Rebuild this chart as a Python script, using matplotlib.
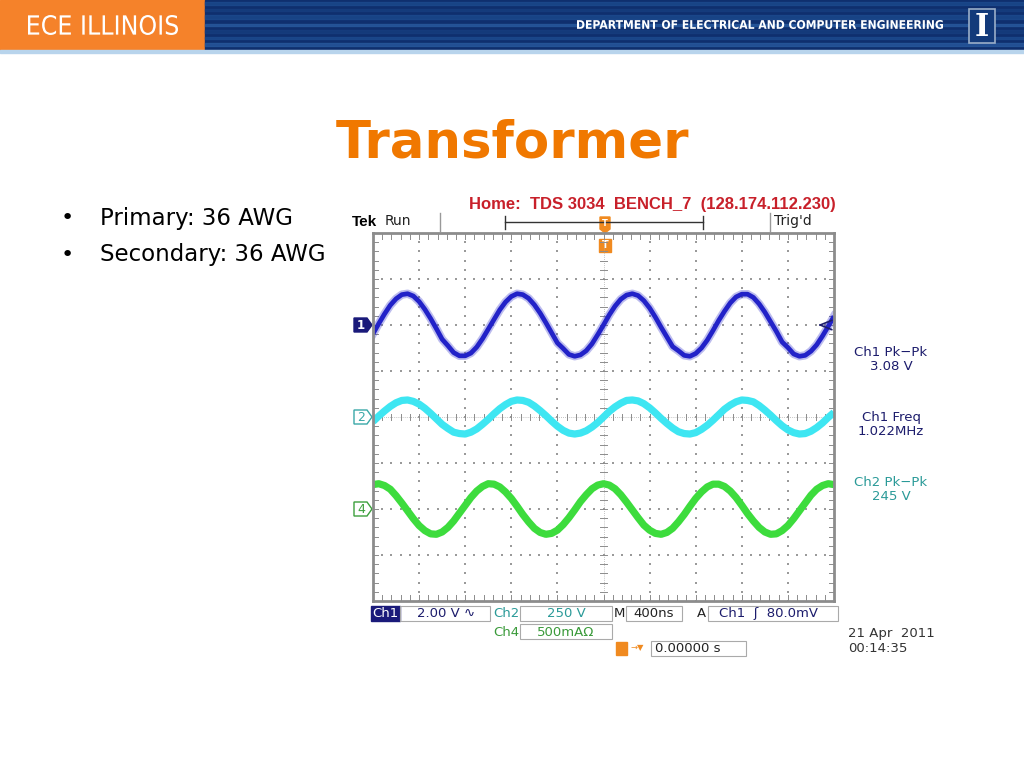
import numpy as np
import matplotlib.pyplot as plt
from matplotlib.patches import Rectangle, Polygon, PathPatch
from matplotlib.textpath import TextPath
from matplotlib.font_manager import FontProperties
from matplotlib.transforms import Affine2D

ch1_values = [-0.19, 0.03, 0.24, 0.43, 0.57, 0.66, 0.68, 0.63, 0.51, 0.34, 0.14, -0.08, -0.31, -0.45,
              -0.60, -0.67, -0.67, -0.61, -0.48, -0.30, -0.09, 0.12, 0.33, 0.50, 0.62, 0.68, 0.66,
              0.58, 0.44, 0.26, 0.05, -0.17, -0.39, -0.51, -0.64, -0.68, -0.65, -0.56, -0.41, -0.21,
              0.00, 0.22, 0.41, 0.56, 0.65, 0.68, 0.64, 0.53, 0.37, 0.17, -0.05, -0.26, -0.47, -0.56,
              -0.66, -0.68, -0.62, -0.50, -0.33, -0.12, 0.10, 0.30, 0.48, 0.61, 0.67, 0.67, 0.60,
              0.46, 0.28, 0.07, -0.14, -0.37, -0.49, -0.63, -0.68, -0.66, -0.57, -0.43, -0.24, -0.03, 0.19]
ch2_values = [-0.10, 0.02, 0.13, 0.23, 0.31, 0.36, 0.37, 0.34, 0.28, 0.19, 0.08, -0.04, -0.16, -0.25,
              -0.33, -0.36, -0.37, -0.33, -0.26, -0.16, -0.05, 0.07, 0.18, 0.27, 0.34, 0.37, 0.36,
              0.32, 0.24, 0.14, 0.03, -0.09, -0.20, -0.29, -0.35, -0.37, -0.35, -0.30, -0.22, -0.12,
              0.00, 0.12, 0.22, 0.30, 0.36, 0.37, 0.35, 0.29, 0.20, 0.09, -0.03, -0.14, -0.24, -0.32,
              -0.36, -0.37, -0.34, -0.27, -0.18, -0.07, 0.05, 0.17, 0.26, 0.33, 0.37, 0.36, 0.33,
              0.25, 0.15, 0.04, -0.08, -0.19, -0.28, -0.34, -0.37, -0.36, -0.31, -0.23, -0.13, -0.01, 0.10]
ch4_values = [0.53, 0.55, 0.51, 0.43, 0.29, 0.13, -0.04, -0.21, -0.36, -0.47, -0.54, -0.55, -0.50, -0.40,
              -0.26, -0.09, 0.08, 0.25, 0.39, 0.49, 0.55, 0.54, 0.48, 0.37, 0.23, 0.06, -0.12,
              -0.28, -0.42, -0.51, -0.55, -0.53, -0.46, -0.34, -0.19, -0.02, 0.16, 0.31, 0.44, 0.52,
              0.55, 0.52, 0.44, 0.31, 0.15, -0.02, -0.19, -0.35, -0.46, -0.53, -0.55, -0.51, -0.42,
              -0.28, -0.12, 0.06, 0.23, 0.37, 0.48, 0.54, 0.54, 0.49, 0.39, 0.25, 0.08, -0.10, -0.26,
              -0.40, -0.50, -0.55, -0.54, -0.47, -0.36, -0.21, -0.04, 0.13, 0.30, 0.43, 0.51, 0.55, 0.53]
offsets = {'1': 2.0, '2': 0.0, '4': -2.0}
temps = np.linspace(0, 10, len(ch1_values))   # position horizontale en divisions

bullets = ["Primary: 36 AWG", "Secondary: 36 AWG"]
mesures = [("Ch1 Pk\u2212Pk", "3.08 V", '#1c1c6c'),
           ("Ch1 Freq", "1.022MHz", '#1c1c6c'),
           ("Ch2 Pk\u2212Pk", "245 V", '#2a9a98')]

bleu_ch1 = '#2222c8'
cyan_ch2 = '#3ee6f2'
vert_ch4 = '#3ddc3d'
orange = '#f07800'
navy = '#1c1c6c'

fig = plt.figure(figsize=(10.24, 7.68), dpi=100)
bg = fig.add_axes([0, 0, 1, 1])
bg.set_xlim(0, 1024)
bg.set_ylim(768, 0)
bg.axis('off')


def texte_etroit(txt, x0, x1, y0, y1, poids='bold', couleur='white'):
    """Texte condensé placé dans la boîte [x0, x1] x [y0, y1] (pixels)"""
    chemin = TextPath((0, 0), txt, size=10, prop=FontProperties(family='DejaVu Sans', weight=poids))
    ext = chemin.get_extents()
    sx = (x1 - x0) / ext.width
    sy = (y1 - y0) / ext.height
    tr = Affine2D().translate(-ext.x0, -ext.y0).scale(sx, -sy).translate(x0, y1)
    bg.add_patch(PathPatch(tr.transform_path(chemin), color=couleur, lw=0))


# Bandeau supérieur
bg.add_patch(Rectangle((0, 0), 205, 51, color='#f5822a'))
bg.add_patch(Rectangle((205, 0), 819, 51, color='#0f2f6e'))
for y0, h, c in [(2, 3, '#1d4c90'), (9, 2, '#173f80'), (15, 4, '#1d4c90'), (24, 2, '#2a5ca0'),
                 (30, 3, '#173f80'), (37, 2, '#1d4c90'), (43, 3, '#2a5ca0')]:
    bg.add_patch(Rectangle((205, y0), 819, h, color=c, alpha=0.7))
bg.add_patch(Rectangle((0, 50), 1024, 3, color='#b8d4ec'))
texte_etroit("ECE ILLINOIS", 28, 178, 15, 35, poids='normal')
texte_etroit("DEPARTMENT OF ELECTRICAL AND COMPUTER ENGINEERING", 577, 943, 20, 29)
bg.add_patch(Rectangle((969, 9), 26, 34, facecolor='#133a7a', edgecolor='#9aaec8', lw=1.2))
bg.text(982, 27, "I", color='white', fontsize=22, ha='center', va='center', family='DejaVu Serif',
        fontweight='bold')

# Titre et puces
bg.text(512, 144, "Transformer", color=orange, fontsize=37, fontweight='bold', ha='center', va='center')
for i, b in enumerate(bullets):
    y = 218 + i * 37
    bg.text(61, y, "\u2022", fontsize=16, va='center', ha='left')
    bg.text(100, y, b, fontsize=16.5, va='center', ha='left')

# En-tête de l'oscilloscope
bg.text(652, 204, "Home:  TDS 3034  BENCH_7  (128.174.112.230)", color='#c8202a', fontsize=12,
        fontweight='bold', ha='center', va='center', family='Liberation Sans')
bg.text(352, 222, "Tek", fontsize=11, fontweight='bold', ha='left', va='center', family='Liberation Sans')
bg.text(385, 221, "Run", fontsize=10, ha='left', va='center', family='DejaVu Sans', color='#222222')
bg.text(774, 221, "Trig'd", fontsize=10, ha='left', va='center', family='DejaVu Sans', color='#222222')
bg.plot([440, 440], [213, 231], color='#999999', lw=1)
bg.plot([770, 770], [213, 231], color='#999999', lw=1)
bg.plot([505, 703], [222, 222], color='#333333', lw=1)
bg.plot([505, 505], [216, 229], color='#333333', lw=1)
bg.plot([703, 703], [216, 229], color='#333333', lw=1)
bg.add_patch(Polygon([[600, 217], [610, 217], [610, 229], [605, 233], [600, 229]], color='#f08a20'))
bg.text(605, 223, "T", color='white', fontsize=6, ha='center', va='center', fontweight='bold')
bg.add_patch(Rectangle((599, 239), 12, 13, color='#f08a20', zorder=5))
bg.text(605, 245.5, "T", color='white', fontsize=7, ha='center', va='center', fontweight='bold', zorder=6)

# Repères des voies à gauche
y_pix = {'1': 325, '2': 417, '4': 509}
bg.add_patch(Polygon([[354, 318], [367, 318], [372, 325], [367, 332], [354, 332]], facecolor='#1a1a7a',
                     edgecolor='#1a1a7a'))
bg.text(361, 325.5, "1", color='white', fontsize=8.5, fontweight='bold', ha='center', va='center')
for k, c in [('2', '#3aa8a8'), ('4', '#3ca03c')]:
    y = y_pix[k]
    bg.add_patch(Polygon([[354, y - 7], [367, y - 7], [372, y], [367, y + 7], [354, y + 7]],
                         facecolor='white', edgecolor=c, lw=1))
    bg.text(361, y + 0.5, k, color=c, fontsize=9, ha='center', va='center')

# Mesures à droite
for i, (l1, l2, c) in enumerate(mesures):
    y = 352 + i * 65.5
    bg.text(891, y, l1, color=c, fontsize=9.5, ha='center', va='center')
    bg.text(891, y + 14, l2, color=c, fontsize=9.5, ha='center', va='center')

# Barre d'état du bas
def boite(x0, x1, y0, y1):
    bg.add_patch(Rectangle((x0, y0), x1 - x0, y1 - y0, facecolor='none', edgecolor='#aaaaaa', lw=0.8))

bg.add_patch(Rectangle((371, 606), 29, 15, color='#1a1a7a'))
bg.text(385.5, 613.5, "Ch1", color='white', fontsize=9.5, ha='center', va='center')
boite(400, 490, 606, 621)
bg.text(417, 613.5, "2.00 V \u223f", color=navy, fontsize=9.5, ha='left', va='center')
bg.text(493, 613.5, "Ch2", color='#2a9a98', fontsize=9.5, ha='left', va='center')
boite(520, 612, 606, 621)
bg.text(566, 613.5, "250 V", color='#2a9a98', fontsize=9.5, ha='center', va='center')
bg.text(614, 613.5, "M", color='#222222', fontsize=9.5, ha='left', va='center')
boite(626, 682, 606, 621)
bg.text(654, 613.5, "400ns", color='#222222', fontsize=9.5, ha='center', va='center')
bg.text(697, 613.5, "A", color='#222222', fontsize=9.5, ha='left', va='center')
boite(708, 838, 606, 621)
bg.text(719, 613.5, "Ch1  \u0283  80.0mV", color=navy, fontsize=9.5, ha='left', va='center')
bg.text(493, 632, "Ch4", color='#3a9a3a', fontsize=9.5, ha='left', va='center')
boite(520, 612, 624, 639)
bg.text(566, 632, "500mA\u03a9", color='#3a9a3a', fontsize=9.5, ha='center', va='center')
bg.add_patch(Rectangle((616, 642), 11, 13, color='#f08a20'))
bg.text(637, 648, "\u2192\u25bc", color='#f08a20', fontsize=6, ha='center', va='center')
boite(651, 746, 641, 656)
bg.text(655, 648.5, "0.00000 s", color='#222222', fontsize=9.5, ha='left', va='center')
bg.text(848, 633, "21 Apr  2011", color='#333333', fontsize=9.5, ha='left', va='center')
bg.text(848, 648, "00:14:35", color='#333333', fontsize=9.5, ha='left', va='center')

# Écran de l'oscilloscope
ax = fig.add_axes([373 / 1024, (768 - 601) / 768, 461 / 1024, 368 / 768])
ax.patch.set_alpha(0)
ax.set_xlim(0, 10)
ax.set_ylim(-4, 4)
ax.set_xticks([])
ax.set_yticks([])
for s in ax.spines.values():
    s.set_color('#8c8c8c')
    s.set_linewidth(2)

# Pointillés de la grille
gris = '#9a9a9a'
pas = np.arange(0, 10.01, 0.2)
pas_y = np.arange(-4, 4.01, 0.2)
for gx in range(1, 10):
    if gx != 5:
        ax.scatter(np.full(len(pas_y), gx), pas_y, s=0.6, color=gris, marker='s', lw=0)
for gy in range(-3, 4):
    if gy != 0:
        ax.scatter(pas, np.full(len(pas), gy), s=0.6, color=gris, marker='s', lw=0)
# Axes centraux et graduations
ax.plot([5, 5], [-4, 4], color='#b0b0b0', lw=0.6, ls=(0, (1, 1.5)))
ax.plot([0, 10], [0, 0], color='#b0b0b0', lw=0.6, ls=(0, (1, 1.5)))
for p in pas:
    ax.plot([p, p], [-0.07, 0.07], color='#8c8c8c', lw=0.7)
    ax.plot([p, p], [3.88, 4], color='#8c8c8c', lw=0.7)
    ax.plot([p, p], [-4, -3.88], color='#8c8c8c', lw=0.7)
for p in pas_y:
    ax.plot([4.93, 5.07], [p, p], color='#8c8c8c', lw=0.7)
    ax.plot([0, 0.1], [p, p], color='#8c8c8c', lw=0.7)
    ax.plot([9.9, 10], [p, p], color='#8c8c8c', lw=0.7)

# Traces des trois voies
ax.plot(temps, np.array(ch4_values) + offsets['4'], color=vert_ch4, lw=5.2, solid_capstyle='butt')
ax.plot(temps, np.array(ch2_values) + offsets['2'], color=cyan_ch2, lw=5.2, solid_capstyle='butt')
ax.plot(temps, np.array(ch1_values) + offsets['1'], color=bleu_ch1, lw=6.0, alpha=0.3)
ax.plot(temps, np.array(ch1_values) + offsets['1'], color=bleu_ch1, lw=3.4, solid_capstyle='butt')

# Niveau de déclenchement (flèche à droite)
ax.plot([9.7, 9.95], [offsets['1'], offsets['1'] + 0.1], color=navy, lw=1.2)
ax.plot([9.7, 9.95], [offsets['1'], offsets['1'] - 0.1], color=navy, lw=1.2)

fig.savefig("out.png", dpi=100)
